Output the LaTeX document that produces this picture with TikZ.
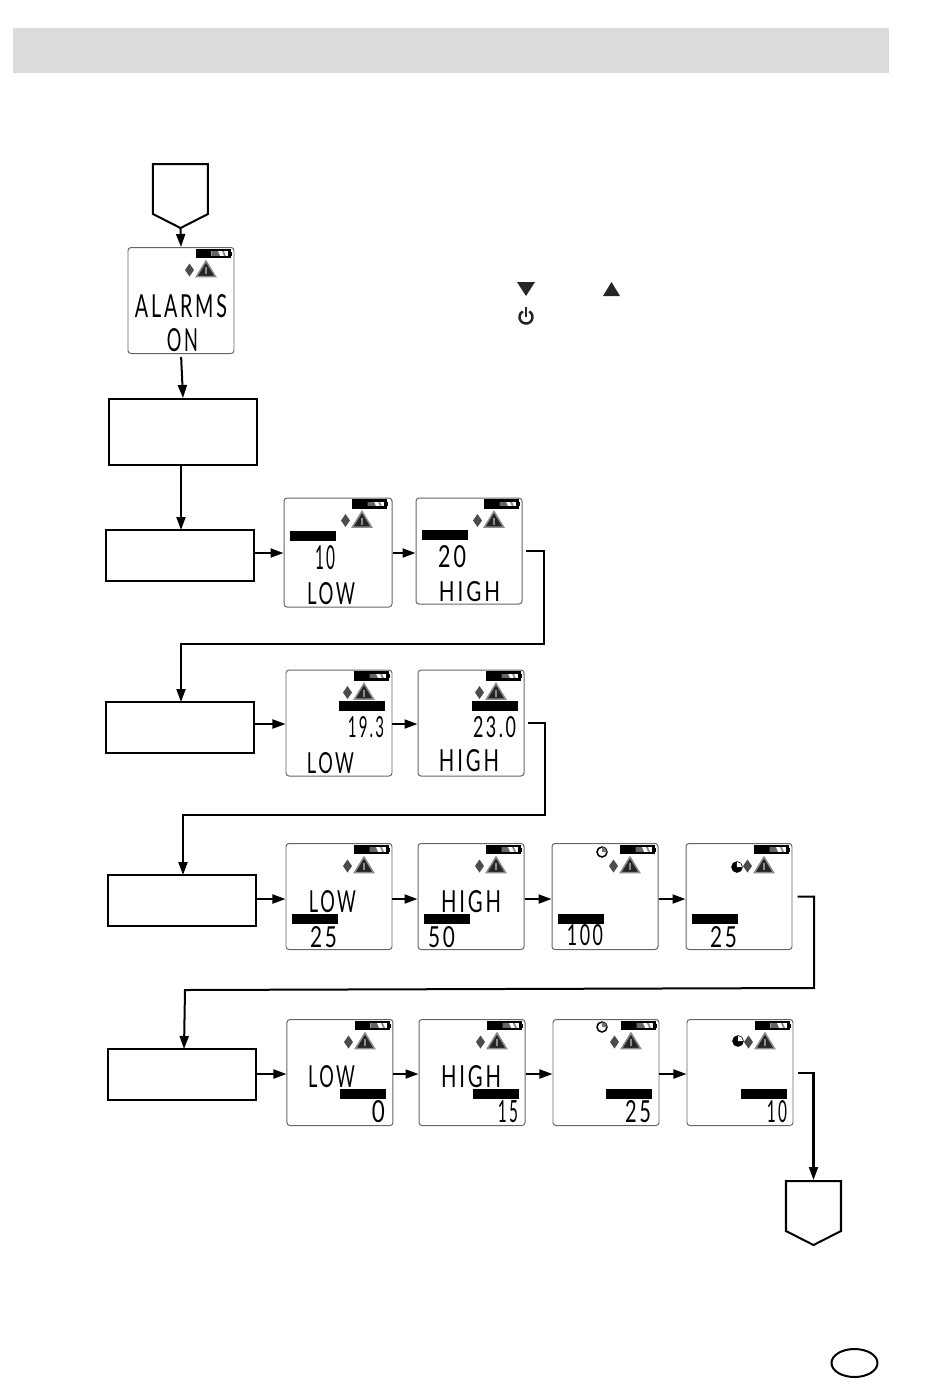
\documentclass[tikz,border=0pt]{standalone}
\usepackage{fontspec}
\usepackage{graphicx}
\usetikzlibrary{ arrows.meta,   % For the flow arrow tips
                 shapes.geometric, % For the ellipse
                 shapes.symbols,   % For the signal boxes
               }
\newfontfamily\lcdfont{Lato}[LetterSpace=14]
\newcommand{\lcdtxt}[3]{\resizebox{#1cm}{#2cm}{\lcdfont #3}}
\newcommand{\lcdicons}[1]{%
  \begin{scope}[shift={(#1.north west)}]
    \fill[black] (0.69,-0.02) rectangle (0.84,-0.11);
    \fill[black!60] (0.84,-0.03) -- (0.90,-0.03) -- (0.93,-0.10) -- (0.84,-0.10) -- cycle;
    \fill[black!45] (0.94,-0.03) -- (0.96,-0.03) -- (0.99,-0.10) -- (0.97,-0.10) -- cycle;
    \draw[line width=0.022cm] (0.70,-0.03) rectangle (1.02,-0.10);
    \fill[black] (1.02,-0.045) rectangle (1.045,-0.085);
    \fill[black!70] (0.62,-0.165) -- (0.665,-0.23) -- (0.62,-0.295) -- (0.575,-0.23) -- cycle;
    \filldraw[fill=black!85,draw=black!45,line width=0.015cm] (0.785,-0.14) -- (0.88,-0.295) -- (0.69,-0.295) -- cycle;
    \draw[black!45,line width=0.015cm] (0.785,-0.20) -- (0.785,-0.27);
  \end{scope}}
\newcommand{\lcdclock}[4]{%
  \draw[line width=0.015cm,fill=#3] (#1,#2) circle (0.05);
  \fill[#4] (#1,#2) -- ++(0,0.05) arc (90:0:0.05) -- cycle;}
\tikzset{
  lcd/.style={draw=black!60, line width=0.01cm, rounded corners=0.03cm, minimum width=1.06cm, minimum height=1.06cm, inner sep=0pt},
  lcdbar/.style={fill=black, minimum width=0.46cm, minimum height=0.10cm, inner sep=0pt},
  lcdtext/.style={inner sep=0pt, text=black},
  flowbox/.style={draw, line width=0.02cm, minimum width=1.48cm, minimum height=0.51cm, inner sep=0pt},
  gobox/.style={draw, line width=0.02cm, signal, signal to=south, signal pointer angle=126, minimum width=0.55cm, minimum height=0.50cm, inner sep=0pt, anchor=north},
  flow/.style={line width=0.02cm, -{Triangle[length=0.13cm,width=0.09cm]}},
}
\begin{document}
\begin{tikzpicture}
  \useasboundingbox (0,0) rectangle (9.5,-13.87);
  \node[fill=black!14, minimum width=8.76cm, minimum height=0.45cm, inner sep=0pt] (band) at (4.51,-0.505) {};

  \fill[black!85] (5.17,-2.82) -- (5.35,-2.82) -- (5.26,-2.96) -- cycle;
  \fill[black!85] (6.03,-2.96) -- (6.20,-2.96) -- (6.115,-2.82) -- cycle;
  \draw[black!85,line width=0.025cm] (5.2925,-3.114) arc (60:-240:0.065);
  \draw[black!85,line width=0.025cm] (5.26,-3.07) -- (5.26,-3.17);

  \node[gobox] (go_in) at (1.805,-1.63) {};
  \node[gobox] (go_out) at (8.135,-11.80) {};
  \node[draw, line width=0.02cm, ellipse, minimum width=0.46cm, minimum height=0.28cm, inner sep=0pt] (page) at (8.545,-13.63) {};

  \node[flowbox, minimum height=0.66cm] (boot) at (1.83,-4.32) {};
  \node[flowbox] (box_a) at (1.80,-5.555) {};
  \node[flowbox] (box_b) at (1.80,-7.275) {};
  \node[flowbox] (box_c) at (1.82,-9.005) {};
  \node[flowbox] (box_d) at (1.82,-10.745) {};

  \node[lcd] (alarm) at (1.81,-3.005) {};
  \node[lcd, minimum width=1.08cm, minimum height=1.09cm] (low_a) at (3.38,-5.525) {};
  \node[lcd] (high_a) at (4.69,-5.51) {};
  \node[lcd] (low_b) at (3.39,-7.23) {};
  \node[lcd] (high_b) at (4.71,-7.23) {};
  \node[lcd] (low_c) at (3.39,-8.965) {};
  \node[lcd] (high_c) at (4.71,-8.965) {};
  \node[lcd] (third_c) at (6.05,-8.965) {};
  \node[lcd] (fourth_c) at (7.39,-8.965) {};
  \node[lcd] (low_d) at (3.40,-10.725) {};
  \node[lcd] (high_d) at (4.72,-10.725) {};
  \node[lcd] (third_d) at (6.06,-10.725) {};
  \node[lcd] (fourth_d) at (7.40,-10.725) {};

  \foreach \disp in {alarm,low_a,high_a,low_b,high_b,low_c,high_c,third_c,fourth_c,low_d,high_d,third_d,fourth_d}
    \lcdicons{\disp};

  \lcdclock{6.02}{-8.52}{white}{black!55}
  \lcdclock{7.37}{-8.67}{black}{white}
  \lcdclock{6.02}{-10.27}{white}{black!55}
  \lcdclock{7.38}{-10.41}{black}{white}

  \node[lcdbar] (bar_low_a) at (3.135,-5.36) {};
  \node[lcdbar] (bar_high_a) at (4.45,-5.345) {};
  \node[lcdbar] (bar_low_b) at (3.62,-7.06) {};
  \node[lcdbar] (bar_high_b) at (4.95,-7.06) {};
  \node[lcdbar] (bar_low_c) at (3.15,-9.19) {};
  \node[lcdbar] (bar_high_c) at (4.47,-9.19) {};
  \node[lcdbar] (bar_third_c) at (5.81,-9.19) {};
  \node[lcdbar] (bar_fourth_c) at (7.15,-9.19) {};
  \node[lcdbar] (bar_low_d) at (3.635,-10.94) {};
  \node[lcdbar] (bar_high_d) at (4.96,-10.94) {};
  \node[lcdbar] (bar_third_d) at (6.29,-10.94) {};
  \node[lcdbar] (bar_fourth_d) at (7.64,-10.94) {};

  \node[lcdtext] (alarm_top) at (1.81,-3.06) {\lcdtxt{0.92}{0.23}{ALARMS}};
  \node[lcdtext] (alarm_on) at (1.825,-3.405) {\lcdtxt{0.31}{0.23}{ON}};
  \node[lcdtext] (num_low_a) at (3.25,-5.58) {\lcdtxt{0.20}{0.24}{10}};
  \node[lcdtext] (txt_low_a) at (3.31,-5.94) {\lcdtxt{0.48}{0.22}{LOW}};
  \node[lcdtext] (num_high_a) at (4.52,-5.57) {\lcdtxt{0.28}{0.22}{20}};
  \node[lcdtext] (txt_high_a) at (4.695,-5.92) {\lcdtxt{0.61}{0.20}{HIGH}};
  \node[lcdtext] (num_low_b) at (3.66,-7.275) {\lcdtxt{0.36}{0.21}{19.3}};
  \node[lcdtext] (txt_low_b) at (3.305,-7.635) {\lcdtxt{0.47}{0.21}{LOW}};
  \node[lcdtext] (num_high_b) at (4.945,-7.275) {\lcdtxt{0.43}{0.21}{23.0}};
  \node[lcdtext] (txt_high_b) at (4.69,-7.61) {\lcdtxt{0.60}{0.22}{HIGH}};
  \node[lcdtext] (txt_low_c) at (3.325,-9.02) {\lcdtxt{0.47}{0.22}{LOW}};
  \node[lcdtext] (num_low_c) at (3.235,-9.375) {\lcdtxt{0.27}{0.21}{25}};
  \node[lcdtext] (txt_high_c) at (4.71,-9.02) {\lcdtxt{0.60}{0.22}{HIGH}};
  \node[lcdtext] (num_high_c) at (4.415,-9.375) {\lcdtxt{0.27}{0.21}{50}};
  \node[lcdtext] (num_third_c) at (5.85,-9.355) {\lcdtxt{0.36}{0.21}{100}};
  \node[lcdtext] (num_fourth_c) at (7.235,-9.375) {\lcdtxt{0.27}{0.21}{25}};
  \node[lcdtext] (txt_low_d) at (3.315,-10.77) {\lcdtxt{0.47}{0.22}{LOW}};
  \node[lcdtext] (num_low_d) at (3.785,-11.12) {\lcdtxt{0.13}{0.22}{0}};
  \node[lcdtext] (txt_high_d) at (4.71,-10.77) {\lcdtxt{0.60}{0.22}{HIGH}};
  \node[lcdtext] (num_high_d) at (5.08,-11.12) {\lcdtxt{0.20}{0.22}{15}};
  \node[lcdtext] (num_third_d) at (6.38,-11.12) {\lcdtxt{0.26}{0.22}{25}};
  \node[lcdtext] (num_fourth_d) at (7.77,-11.12) {\lcdtxt{0.20}{0.22}{10}};

  \coordinate (row_a) at (0,-5.53);
  \coordinate (row_b) at (0,-7.24);
  \coordinate (row_c) at (0,-8.99);
  \coordinate (row_d) at (0,-10.74);
  \coordinate (bend_a) at (5.44,-6.44);
  \coordinate (bend_b) at (5.45,-8.15);
  \coordinate (bend_c) at (8.14,-9.88);
  \coordinate (turn_c) at (1.85,-9.90);
  \coordinate (in_a) at (1.81,-5.30);
  \coordinate (in_b) at (1.81,-7.02);
  \coordinate (in_c) at (1.83,-8.75);
  \coordinate (in_d) at (1.84,-10.49);

  \draw[flow] (go_in.south) -- (alarm.north);
  \draw[flow, shorten <=0.03cm] (alarm.south) -- (boot.north);
  \draw[flow] (boot.south -| in_a) -- (in_a);
  \draw[flow] (box_a.east |- row_a) -- (low_a.west |- row_a);
  \draw[flow] (low_a.east |- row_a) -- (high_a.west |- row_a);
  \draw[flow] (box_b.east |- row_b) -- (low_b.west |- row_b);
  \draw[flow] (low_b.east |- row_b) -- (high_b.west |- row_b);
  \draw[flow] (box_c.east |- row_c) -- (low_c.west |- row_c);
  \draw[flow] (low_c.east |- row_c) -- (high_c.west |- row_c);
  \draw[flow] (high_c.east |- row_c) -- (third_c.west |- row_c);
  \draw[flow] (third_c.east |- row_c) -- (fourth_c.west |- row_c);
  \draw[flow] (box_d.east |- row_d) -- (low_d.west |- row_d);
  \draw[flow] (low_d.east |- row_d) -- (high_d.west |- row_d);
  \draw[flow] (high_d.east |- row_d) -- (third_d.west |- row_d);
  \draw[flow] (third_d.east |- row_d) -- (fourth_d.west |- row_d);

  \draw[flow, shorten <=0.03cm] (high_a.east) -| (bend_a) -| (in_b);
  \draw[flow, shorten <=0.03cm] (high_b.east) -| (bend_b) -| (in_c);
  \draw[flow, shorten <=0.05cm] (fourth_c.east) -| (bend_c) -- (turn_c) -- (in_d);
  \draw[flow, shorten <=0.05cm] (fourth_d.east) -| (go_out.north);
\end{tikzpicture}
\end{document}
